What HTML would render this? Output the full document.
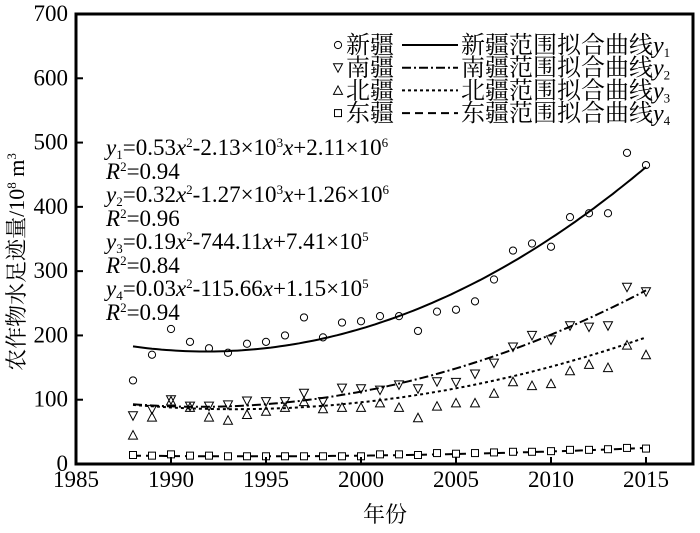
<!DOCTYPE html>
<html><head><meta charset="utf-8"><style>
body{margin:0;background:#fff;}
svg, svg text{font-family:"Liberation Serif","Times New Roman","DejaVu Serif","Noto Serif CJK SC",serif;}
svg text{fill:#000;}
</style></head><body>
<svg id="chart" width="700" height="528" viewBox="0 0 700 528">
<g id="plot"></g>
<g id="axes"></g>
<text x="24" y="262" font-size="22" text-anchor="middle" transform="rotate(-90 24 262)">农作物水足迹量/10<tspan font-size="13" dy="-8">8</tspan><tspan dy="8"> m</tspan><tspan font-size="13" dy="-8">3</tspan></text>
<text x="385" y="522" font-size="22" text-anchor="middle">年份</text>
<g font-size="23">
<text x="106" y="155"><tspan font-style="italic">y</tspan><tspan font-size="13" dy="4">1</tspan><tspan dy="-4">=0.53</tspan><tspan font-style="italic">x</tspan><tspan font-size="13" dy="-8">2</tspan><tspan dy="8">-2.13×10</tspan><tspan font-size="13" dy="-8">3</tspan><tspan dy="8" font-style="italic">x</tspan><tspan>+2.11×10</tspan><tspan font-size="13" dy="-8">6</tspan></text>
<text x="106" y="179"><tspan font-style="italic">R</tspan><tspan font-size="13" dy="-8">2</tspan><tspan dy="8">=0.94</tspan></text>
<text x="106" y="202"><tspan font-style="italic">y</tspan><tspan font-size="13" dy="4">2</tspan><tspan dy="-4">=0.32</tspan><tspan font-style="italic">x</tspan><tspan font-size="13" dy="-8">2</tspan><tspan dy="8">-1.27×10</tspan><tspan font-size="13" dy="-8">3</tspan><tspan dy="8" font-style="italic">x</tspan><tspan>+1.26×10</tspan><tspan font-size="13" dy="-8">6</tspan></text>
<text x="106" y="226"><tspan font-style="italic">R</tspan><tspan font-size="13" dy="-8">2</tspan><tspan dy="8">=0.96</tspan></text>
<text x="106" y="249"><tspan font-style="italic">y</tspan><tspan font-size="13" dy="4">3</tspan><tspan dy="-4">=0.19</tspan><tspan font-style="italic">x</tspan><tspan font-size="13" dy="-8">2</tspan><tspan dy="8">-744.11</tspan><tspan font-style="italic">x</tspan><tspan>+7.41×10</tspan><tspan font-size="13" dy="-8">5</tspan></text>
<text x="106" y="273"><tspan font-style="italic">R</tspan><tspan font-size="13" dy="-8">2</tspan><tspan dy="8">=0.84</tspan></text>
<text x="106" y="296"><tspan font-style="italic">y</tspan><tspan font-size="13" dy="4">4</tspan><tspan dy="-4">=0.03</tspan><tspan font-style="italic">x</tspan><tspan font-size="13" dy="-8">2</tspan><tspan dy="8">-115.66</tspan><tspan font-style="italic">x</tspan><tspan>+1.15×10</tspan><tspan font-size="13" dy="-8">5</tspan></text>
<text x="106" y="320"><tspan font-style="italic">R</tspan><tspan font-size="13" dy="-8">2</tspan><tspan dy="8">=0.94</tspan></text>
</g>
<g id="legend" font-size="24"></g>
</svg>
<script>
const years=[1988,1989,1990,1991,1992,1993,1994,1995,1996,1997,1998,1999,2000,2001,2002,2003,2004,2005,2006,2007,2008,2009,2010,2011,2012,2013,2014,2015];
const xinjiang=[130,170,210,190,180,173,187,190,200,228,197,220,222,230,230,207,237,240,253,287,332,343,338,384,390,390,484,465];
const nanjiang=[75,85,100,90,90,92,98,97,97,110,97,118,117,115,123,117,128,127,140,157,182,200,193,215,213,215,275,268];
const beijiang=[45,73,98,88,73,68,77,82,88,97,86,88,88,95,88,72,90,95,95,110,128,122,125,145,155,150,185,170];
const dongjiang=[14,13,15,13,13,12,12,12,12,12,12,12,12,15,15,14,17,16,17,18,19,19,20,22,22,23,25,24];
// fitted-curve anchor values
const fitYears1=[1988,1992,2015], fitVals1=[183,175,462];
const fitYears2=[1988,1995,2015], fitVals2=[93,93,270];
const fitYears3=[1988,1996,2015], fitVals3=[92,87,197];
const fitYears4=[1988,2000,2015], fitVals4=[13,13,25];
const xTicks=[1985,1990,1995,2000,2005,2010,2015];
const yTicks=[0,100,200,300,400,500,600,700];
const NS="http://www.w3.org/2000/svg";
const L=76,R=693,T=14,B=464;
const xs=v=>L+(v-1985)*19.0;
const ys=v=>B-(v/700)*(B-T);
function mk(tag,attrs,parent){const e=document.createElementNS(NS,tag);for(const k in attrs)e.setAttribute(k,attrs[k]);parent.appendChild(e);return e;}
const plot=document.getElementById('plot'),axes=document.getElementById('axes'),legend=document.getElementById('legend');
function quad(xv,yv){return x=>{let s=0;for(let i=0;i<3;i++){let p=yv[i];for(let j=0;j<3;j++)if(j!==i)p*=(x-xv[j])/(xv[i]-xv[j]);s+=p;}return s;};}
const series=[
 {name:'xinjiang',data:xinjiang,fx:fitYears1,fy:fitVals1,marker:'circle',dash:''},
 {name:'nanjiang',data:nanjiang,fx:fitYears2,fy:fitVals2,marker:'down',dash:'9 3 2 3'},
 {name:'beijiang',data:beijiang,fx:fitYears3,fy:fitVals3,marker:'up',dash:'3 3'},
 {name:'dongjiang',data:dongjiang,fx:fitYears4,fy:fitVals4,marker:'square',dash:'8 5'}];
function marker(type,x,y,parent){
 let e;
 if(type==='circle')e=mk('circle',{cx:x,cy:y,r:3.6,fill:'none',stroke:'#000','stroke-width':1},parent);
 else if(type==='down')e=mk('polygon',{points:`${x-4.5},${y-4} ${x+4.5},${y-4} ${x},${y+4.5}`,fill:'none',stroke:'#000','stroke-width':1},parent);
 else if(type==='up')e=mk('polygon',{points:`${x-4.5},${y+4} ${x+4.5},${y+4} ${x},${y-4.5}`,fill:'none',stroke:'#000','stroke-width':1},parent);
 else e=mk('rect',{x:x-3.5,y:y-3.5,width:7,height:7,fill:'#fff',stroke:'#000','stroke-width':1},parent);
 return e;}
series.forEach(s=>{
 const f=quad(s.fx,s.fy);let d='';
 for(let x=1988;x<=2015.001;x+=0.25)d+=(d?'L':'M')+xs(x).toFixed(1)+','+ys(f(x)).toFixed(1);
 const p=mk('path',{d:d,fill:'none',stroke:'#000','stroke-width':2,'stroke-dasharray':s.dash},plot);
 
 
 years.forEach((yr,i)=>{const m=marker(s.marker,xs(yr),ys(s.data[i]),plot);
  
  });
});
const frame=mk('rect',{x:L,y:T,width:R-L,height:B-T,fill:'none',stroke:'#000','stroke-width':3},axes);


xTicks.forEach(v=>{const x=xs(v);
 const t=mk('line',{x1:x,x2:x,y1:B,y2:B-7,stroke:'#000','stroke-width':2},axes);
 
 
 const l=mk('text',{x:x,y:B+23,'font-size':23,'text-anchor':'middle'},axes);l.textContent=v;
 
 });
yTicks.forEach(v=>{const y=ys(v);
 const t=mk('line',{x1:L,x2:L+7,y1:y,y2:y,stroke:'#000','stroke-width':2},axes);
 
 
 const l=mk('text',{x:L-8,y:y+7,'font-size':23,'text-anchor':'end'},axes);l.textContent=v;
 
 });
const names=['新疆','南疆','北疆','东疆'];
series.forEach((s,i)=>{const cy=45+i*22.7;
 const m=marker(s.marker,338,cy,legend);
 
 
 const t=mk('text',{x:346,y:cy+8},legend);t.textContent=names[i];
 
 
 const ln=mk('line',{x1:402,x2:458,y1:cy,y2:cy,stroke:'#000','stroke-width':2,'stroke-dasharray':s.dash},legend);
 
 
 const t2=mk('text',{x:461,y:cy+8},legend);
 t2.innerHTML=names[i]+'范围拟合曲线<tspan font-style="italic">y</tspan><tspan font-size="13" dy="4">'+(i+1)+'</tspan>';
 
 });
</script>
</body></html>
